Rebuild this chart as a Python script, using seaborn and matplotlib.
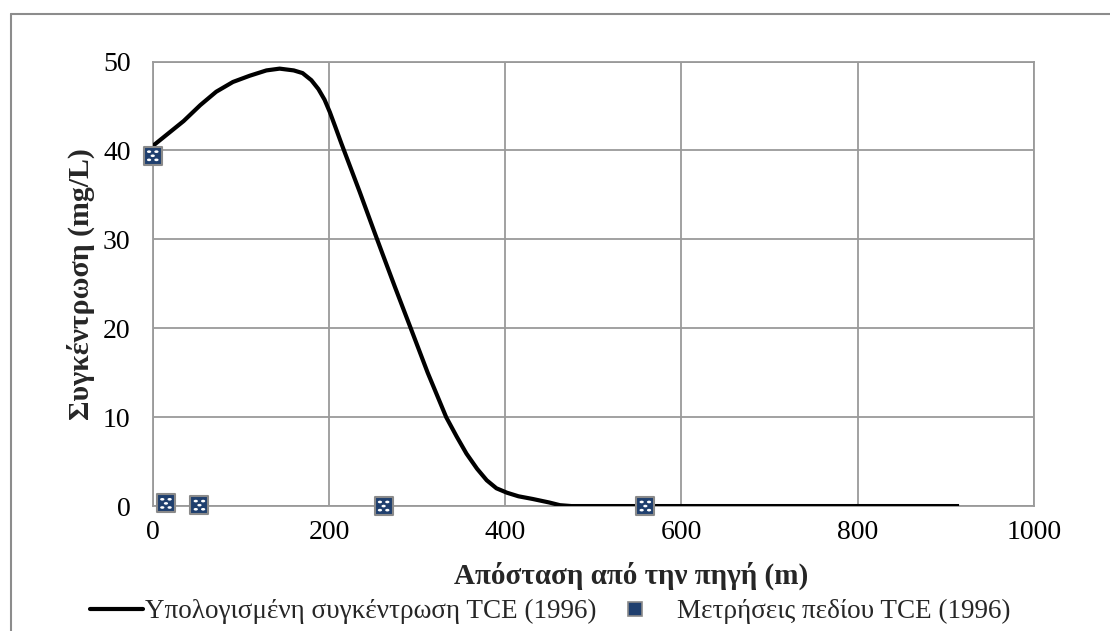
import numpy as np
import pandas as pd
import seaborn as sns
import matplotlib.pyplot as plt
from matplotlib.path import Path
from matplotlib.lines import Line2D
from matplotlib.legend_handler import HandlerTuple

# Computed TCE concentration along the plume (1996)
model_x = [0, 10, 20, 35, 54, 72, 91, 110, 129, 144, 160, 170, 180, 188, 195,
           201, 207, 214, 235, 252, 261, 275, 292, 312, 333, 345, 356, 368,
           379, 390, 402, 415, 431, 450, 462, 475, 500, 600, 700, 800, 915]
model_y = [40.5, 41.3, 42.1, 43.3, 45.1, 46.6, 47.7, 48.4, 49.0, 49.2, 49.0,
           48.7, 47.9, 46.9, 45.7, 44.3, 42.7, 40.8, 35.3, 30.7, 28.3, 24.6,
           20.2, 15.0, 10.0, 7.8, 5.9, 4.2, 2.9, 2.0, 1.5, 1.1, 0.8, 0.4, 0.1,
           0.0, 0.0, 0.0, 0.0, 0.0, 0.0]

# Field measurements of TCE (1996)
field_x = [0, 15, 53, 262, 559]
field_y = [39.4, 0.3, 0.1, 0.0, 0.0]

x_ticks = [0, 200, 400, 600, 800, 1000]
y_ticks = [0, 10, 20, 30, 40, 50]

label_model = "Υπολογισμένη συγκέντρωση TCE (1996)"
label_field = "Μετρήσεις πεδίου TCE (1996)"
x_title = "Απόσταση από την πηγή (m)"
y_title = "Συγκέντρωση (mg/L)"

sns.set_theme(style="white")
plt.rcParams["font.family"] = ["Liberation Serif", "DejaVu Serif"]

grid_c = "#9a9a9a"
navy = "#1f3f6e"

fig = plt.figure(figsize=(11.10, 6.31), dpi=100)
ax = fig.add_axes([0.1376, 0.198, 0.7939, 0.7045])

model = pd.DataFrame({"x": model_x, "y": model_y})
field = pd.DataFrame({"x": field_x, "y": field_y})

sns.lineplot(data=model, x="x", y="y", ax=ax, color="black", lw=3.0,
             solid_capstyle="butt", solid_joinstyle="round", zorder=3,
             legend=False)

# dotted pattern drawn on top of the square markers
dots = []
codes = []
for cx, cy in [(-0.45, 0.5), (0.45, 0.5), (0.0, 0.0), (-0.45, -0.5), (0.45, -0.5)]:
    circ = Path.circle((0, 0), 1.0)
    verts = circ.vertices * np.array([0.26, 0.16]) + np.array([cx, cy])
    dots.append(verts)
    codes.append(circ.codes)
dot_marker = Path(np.concatenate(dots), np.concatenate(codes))

sns.scatterplot(data=field, x="x", y="y", ax=ax, marker="s", s=170,
                color=navy, edgecolor="#8a8a8a", linewidth=1.5, zorder=4,
                legend=False, clip_on=False)
sns.scatterplot(data=field, x="x", y="y", ax=ax, marker=dot_marker, s=70,
                color="white", edgecolor="none", linewidth=0, zorder=5,
                legend=False, clip_on=False)

ax.set_xlim(0, 1000)
ax.set_ylim(0, 50)
ax.set_xticks(x_ticks)
ax.set_yticks(y_ticks)
ax.tick_params(axis="both", length=0, labelsize=20, colors="black")
ax.tick_params(axis="x", pad=10)
ax.tick_params(axis="y", pad=16)
ax.grid(True, color=grid_c, lw=1.3)
for sp in ax.spines.values():
    sp.set_color(grid_c)
    sp.set_linewidth(1.3)

ax.set_xlabel(x_title, fontsize=21, fontweight="bold")
ax.xaxis.set_label_coords(0.543, -0.124)
ax.set_ylabel(y_title, fontsize=21.5, fontweight="bold", labelpad=6)

h_line = Line2D([], [], color="black", lw=3.0)
h_sq = Line2D([], [], marker="s", ls="none", markersize=10, markerfacecolor=navy,
              markeredgecolor="#8a8a8a", markeredgewidth=1.2)
h_dot = Line2D([], [], marker=dot_marker, ls="none", markersize=7,
               markerfacecolor="white", markeredgecolor="none")
fig.legend([h_line, (h_sq, h_dot)], [label_model, label_field],
           handler_map={tuple: HandlerTuple(ndivide=None, pad=0)},
           loc="center left", bbox_to_anchor=(0.081, 0.031), ncol=2,
           frameon=False, fontsize=19.5, handlelength=1.95,
           handletextpad=0.07, columnspacing=0.95, borderpad=0, borderaxespad=0)

# outer chart border (left and top edges)
fig.add_artist(Line2D([11 / 1110, 11 / 1110], [0, 1 - 14 / 631],
                      transform=fig.transFigure, color="#8c8c8c", lw=1.5))
fig.add_artist(Line2D([11 / 1110, 1], [1 - 14 / 631, 1 - 14 / 631],
                      transform=fig.transFigure, color="#8c8c8c", lw=1.5))

fig.savefig("out.png", dpi=100, facecolor="white")
